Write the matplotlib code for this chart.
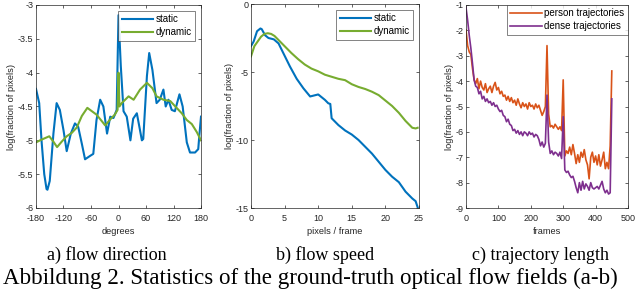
import matplotlib
matplotlib.use("Agg")
import matplotlib.pyplot as plt
import numpy as np

# a) flow direction
dir_static_x = [-180, -173, -168, -162, -157, -155, -150, -142, -135, -128, -120, -113, -104, -95, -88,
                -80, -73, -62, -55, -48, -40, -33, -25, -18, -11, -8, -4, 0, 5, 11, 18, 26, 32, 40, 45,
                51, 54, 62, 67, 74, 83, 90, 98, 103, 109, 116, 123, 133, 140, 149, 156, 167, 174, 176, 180]
dir_static_y = [-4.24, -4.45, -5.0, -5.5, -5.72, -5.73, -5.6, -4.9, -4.45, -4.55, -4.85, -5.16, -4.9, -4.75, -4.8,
                -5.05, -5.28, -5.23, -5.2, -4.7, -4.4, -4.5, -4.9, -4.65, -4.67, -4.62, -4.55, -3.15, -3.9, -4.57,
                -4.65, -5.0, -4.68, -4.6, -4.78, -5.0, -4.98, -4.05, -3.71, -3.96, -4.45, -4.4, -4.25, -4.5,
                -4.4, -4.55, -4.57, -4.32, -4.5, -5.03, -5.18, -5.18, -5.13, -4.96, -4.65]
dir_dynamic_x = [-180, -168, -151, -142, -134, -124, -113, -102, -91, -80, -68, -58, -48, -36, -29, -18, -8,
                 -2, 0, 2, 7, 22, 33, 47, 62, 74, 83, 98, 113, 124, 138, 149, 160, 171, 180]
dir_dynamic_y = [-5.03, -4.99, -4.94, -5.02, -5.1, -5.02, -4.94, -4.89, -4.81, -4.64, -4.52, -4.57, -4.62,
                 -4.72, -4.78, -4.69, -4.62, -4.55, -4.0, -4.5, -4.45, -4.35, -4.4, -4.25, -4.15, -4.23,
                 -4.35, -4.4, -4.42, -4.5, -4.6, -4.7, -4.76, -4.88, -5.0]

# b) flow speed
speed_static_x = [0, 0.4, 0.9, 1.4, 1.6, 2.1, 2.6, 3.4, 4.1, 4.8, 5.8, 6.8, 7.8, 8.8, 10, 11, 11.5, 11.8,
                  12.0, 13, 14, 15, 16, 17, 18, 19, 20, 21, 22, 23, 24, 24.5, 24.8]
speed_static_y = [-3.1, -2.75, -2.0, -1.8, -1.85, -2.3, -2.5, -2.6, -2.9, -3.6, -4.6, -5.5, -6.2, -6.8,
                  -6.65, -7.05, -7.3, -7.35, -8.4, -8.9, -9.3, -9.6, -10.0, -10.5, -11.0, -11.6, -12.2,
                  -12.7, -13.1, -13.8, -14.3, -14.5, -14.95]
speed_dynamic_x = [0, 0.5, 1, 1.5, 2, 2.5, 3, 3.5, 4, 5, 6, 7, 8, 9, 10, 11, 12, 13, 14, 15, 16, 17, 18,
                   19, 20, 21, 22, 23, 24, 24.5, 24.8]
speed_dynamic_y = [-3.85, -3.1, -2.75, -2.4, -2.2, -2.15, -2.2, -2.35, -2.6, -3.1, -3.6, -4.05, -4.45,
                   -4.75, -4.95, -5.2, -5.35, -5.5, -5.6, -5.9, -6.1, -6.25, -6.45, -6.7, -7.1, -7.5,
                   -8.0, -8.6, -9.1, -9.15, -9.1]

# c) trajectory length
traj_frames = list(range(0, 451, 5))
traj_person = [-1.98, -2.6, -2.85, -2.95, -3.5, -3.95, -4.1, -3.9, -4.3, -4.0, -4.25, -4.35, -4.1, -4.45,
               -4.3, -4.2, -4.45, -4.2, -4.05, -4.35, -4.25, -4.5, -4.4, -4.6, -4.55, -4.75, -4.6, -4.8,
               -4.65, -4.85, -4.75, -4.95, -4.7, -4.9, -5.05, -4.85, -5.0, -4.9, -5.1, -4.85, -5.0, -4.95,
               -5.1, -4.9, -5.05, -4.95, -5.15, -5.35, -5.2, -5.0, -2.6, -5.3, -5.8, -5.75, -5.85, -5.7,
               -5.8, -5.9, -5.8, -5.95, -3.95, -6.95, -6.75, -6.85, -6.6, -6.9, -6.5, -6.85, -7.25, -6.9,
               -7.2, -6.8, -7.0, -6.7, -7.1, -7.3, -7.85, -7.0, -6.8, -7.2, -6.95, -7.3, -6.9, -7.35,
               -7.1, -6.8, -7.45, -7.2, -7.45, -6.55, -3.6]
traj_dense = [-1.1, -1.6, -2.2, -2.7, -3.3, -3.95, -4.2, -4.25, -4.5, -4.4, -4.7, -4.6, -4.8, -4.7, -4.85,
              -4.8, -4.95, -4.85, -5.0, -4.95, -5.1, -5.2, -5.15, -5.35, -5.4, -5.6, -5.5, -5.7, -5.75,
              -5.95, -5.9, -6.05, -5.95, -6.1, -6.0, -6.15, -6.0, -6.05, -6.15, -6.0, -6.1, -6.05, -6.2,
              -6.1, -6.15, -6.3, -6.55, -6.4, -6.6, -6.45, -4.55, -6.4, -6.85, -6.75, -6.9, -6.8, -6.85,
              -6.95, -6.8, -7.05, -5.4, -7.5, -7.6, -7.55, -7.7, -7.8, -7.75, -7.95, -8.2, -8.4, -8.0,
              -8.3, -7.95, -8.25, -8.05, -8.15, -8.3, -8.0, -8.2, -8.25, -8.2, -8.15, -8.25, -8.1, -7.95,
              -8.25, -8.4, -8.3, -8.45, -8.4, -4.7]

BLUE = (0.0, 0.447, 0.741)
ORANGE = (0.85, 0.325, 0.098)
GREEN = (0.466, 0.674, 0.188)
PURPLE = (0.494, 0.184, 0.556)

plt.rcParams['font.family'] = ['Liberation Sans', 'DejaVu Sans']
plt.rcParams['font.size'] = 6

fig = plt.figure(figsize=(6.4, 2.91), dpi=100)
W, H = 640, 291


def make_ax(left, right, top, bottom):
    return fig.add_axes([left / W, 1 - bottom / H, (right - left) / W, (bottom - top) / H])


def style(ax):
    ax.tick_params(direction='in', top=True, right=True, length=2.5, width=0.5,
                   labelsize=6.5, colors='#262626')
    ax.tick_params(axis='x', pad=4)
    ax.tick_params(axis='y', pad=2)
    for s in ax.spines.values():
        s.set_linewidth(0.5)
        s.set_color('#262626')


lw = 1.5
ylab = 'log(fraction of pixels)'

ax1 = make_ax(36, 201, 5, 208)
ax1.plot(dir_static_x, dir_static_y, color=BLUE, lw=lw, label='static')
ax1.plot(dir_dynamic_x, dir_dynamic_y, color=GREEN, lw=lw, label='dynamic')
ax1.set_xlim(-180, 180)
ax1.set_ylim(-6, -3)
ax1.set_xticks([-180, -120, -60, 0, 60, 120, 180])
ax1.set_yticks([-6, -5.5, -5, -4.5, -4, -3.5, -3])
ax1.set_yticklabels(['-6', '-5.5', '-5', '-4.5', '-4', '-3.5', '-3'])
ax1.set_xticklabels(['-180', '-120', '-60', '0', '60', '120', '180'])
ax1.set_xlabel('degrees', fontsize=6.7, color='#262626', labelpad=3)
ax1.set_ylabel(ylab, fontsize=6.7, color='#262626', labelpad=1)
style(ax1)

ax2 = make_ax(251, 419, 4, 208)
ax2.plot(speed_static_x, speed_static_y, color=BLUE, lw=lw, label='static')
ax2.plot(speed_dynamic_x, speed_dynamic_y, color=GREEN, lw=lw, label='dynamic')
ax2.set_xlim(0, 25)
ax2.set_ylim(-15, 0)
ax2.set_xticks([0, 5, 10, 15, 20, 25])
ax2.set_yticks([-15, -10, -5, 0])
ax2.set_yticklabels(['-15', '-10', '-5', '0'])
ax2.set_xlabel('pixels / frame', fontsize=6.7, color='#262626', labelpad=3)
ax2.set_ylabel(ylab, fontsize=6.7, color='#262626', labelpad=1)
style(ax2)

ax3 = make_ax(466, 628, 5, 208)
ax3.plot(traj_frames, traj_person, color=ORANGE, lw=1.2, label='person trajectories')
ax3.plot(traj_frames, traj_dense, color=PURPLE, lw=1.2, label='dense trajectories')
ax3.set_xlim(0, 500)
ax3.set_ylim(-9, -1)
ax3.set_xticks([0, 100, 200, 300, 400, 500])
ax3.set_yticks(list(range(-9, 0)))
ax3.set_yticklabels([str(v) for v in range(-9, 0)])
ax3.set_xlabel('frames', fontsize=6.7, color='#262626', labelpad=3)
ax3.set_ylabel(ylab, fontsize=6.7, color='#262626', labelpad=1)
style(ax3)

for ax, pad in ((ax1, 0.6), (ax2, 0.6), (ax3, 0.0)):
    leg = ax.legend(loc='upper right', fontsize=7, frameon=True, fancybox=False,
                    handlelength=3.2, handletextpad=0.3, borderpad=0.35, labelspacing=0.3,
                    borderaxespad=pad)
    leg.get_frame().set_linewidth(0.5)
    leg.get_frame().set_edgecolor('#262626')

serif = ['Liberation Serif', 'DejaVu Serif']
fig.text(107 / W, 1 - 255 / H, 'a) flow direction', ha='center', va='center', fontsize=13, family=serif)
fig.text(325 / W, 1 - 255 / H, 'b) flow speed', ha='center', va='center', fontsize=13, family=serif)
fig.text(540 / W, 1 - 255 / H, 'c) trajectory length', ha='center', va='center', fontsize=13, family=serif)
fig.text(310 / W, 1 - 278 / H, 'Abbildung 2. Statistics of the ground-truth optical flow fields (a-b)',
         ha='center', va='center', fontsize=16.6, family=serif)

fig.savefig('out.png', dpi=100)
